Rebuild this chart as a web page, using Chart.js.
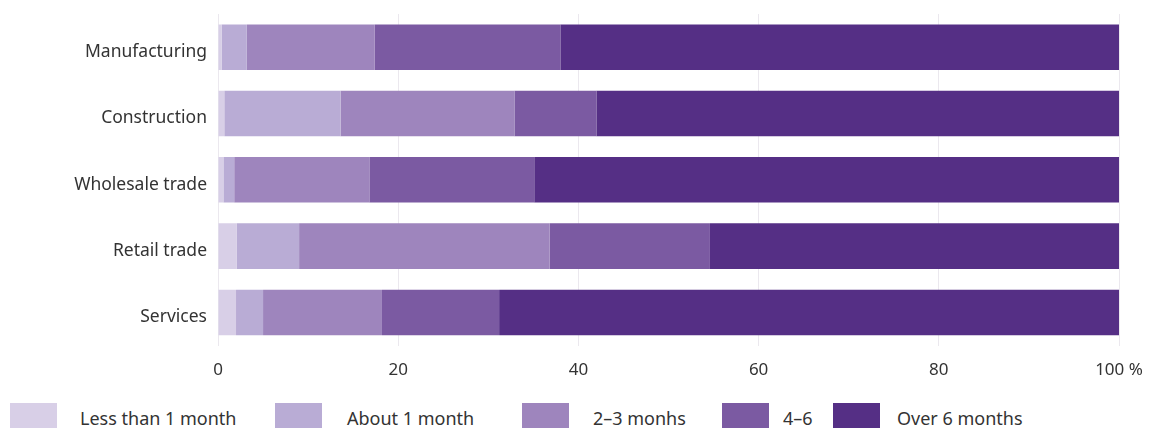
<!DOCTYPE html>
<html>
<head>
<meta charset="utf-8">
<script src="https://cdn.jsdelivr.net/npm/chart.js@4"></script>
<style>
  body { margin: 0; background: #fff; font-family: "Noto Sans", sans-serif; }
  #wrap { position: relative; width: 1163px; height: 428px; overflow: hidden; }
  #legend { position: absolute; left: 0; top: 403px; width: 1163px; height: 26px; font-size: 18px; color: #333; }
  .box { position: absolute; top: 0; width: 47px; height: 26px; }
  .txt { position: absolute; top: 0; line-height: 30px; white-space: nowrap; }
</style>
</head>
<body>
<div id="wrap">
  <canvas id="chart" width="1163" height="396"></canvas>
  <div id="legend"></div>
</div>
<script>
const categories = ["Manufacturing", "Construction", "Wholesale trade", "Retail trade", "Services"];
const seriesNames = ["Less than 1 month", "About 1 month", "2\u20133 monhs", "4\u20136", "Over 6 months"];
const lessThan1 = [0.4, 0.7, 0.6, 2.1, 2.0];
const about1 = [2.8, 12.9, 1.2, 6.9, 3.0];
const months2to3 = [14.2, 19.3, 15.0, 27.8, 13.2];
const months4to6 = [20.6, 9.1, 18.3, 17.8, 13.0];
const over6 = [62.0, 58.0, 64.9, 45.4, 68.8];
const xTicks = [0, 20, 40, 60, 80, 100];
const colors = ["#d8cfe7", "#b9acd5", "#9e85bd", "#7b5aa2", "#552f85"];

const seriesData = [lessThan1, about1, months2to3, months4to6, over6];

const datasets = seriesNames.map((name, i) => ({
    label: name,
    data: seriesData[i],
    backgroundColor: colors[i],
    borderWidth: 0,
    categoryPercentage: 1,
    barPercentage: 0.687
}));

new Chart(document.getElementById("chart"), {
    type: "bar",
    data: { labels: categories, datasets: datasets },
    options: {
        indexAxis: "y",
        responsive: false,
        animation: false,
        layout: { padding: { top: 14, right: 44, left: 0, bottom: 2 } },
        plugins: { legend: { display: false }, tooltip: { enabled: false } },
        scales: {
            x: {
                stacked: true,
                min: 0,
                max: 100,
                afterBuildTicks: axis => { axis.ticks = xTicks.map(v => ({ value: v })); },
                grid: { color: "#ebe8ee", drawTicks: false },
                border: { display: false },
                ticks: {
                    padding: 14,
                    color: "#333",
                    font: { family: "Noto Sans", size: 17 },
                    callback: v => v === 100 ? "100 %" : v
                }
            },
            y: {
                stacked: true,
                afterFit: axis => {
                    axis.width = 218;
                    axis.paddingTop = 0;
                    axis.paddingBottom = 0;
                },
                grid: { display: false, drawTicks: false },
                border: { display: false },
                ticks: {
                    padding: 11,
                    labelOffset: 5,
                    color: "#333",
                    font: { family: "Noto Sans", size: 17.5 }
                }
            }
        }
    }
});

// legend drawn as html under the canvas
const boxLeft = [10, 275, 522, 722, 833];
const textLeft = [80, 347, 593, 783, 897];
const legend = document.getElementById("legend");
seriesNames.forEach((name, i) => {
    const box = document.createElement("span");
    box.className = "box";
    box.style.left = boxLeft[i] + "px";
    box.style.background = colors[i];
    const txt = document.createElement("span");
    txt.className = "txt";
    txt.style.left = textLeft[i] + "px";
    txt.textContent = name;
    legend.appendChild(box);
    legend.appendChild(txt);
});
</script>
</body>
</html>
